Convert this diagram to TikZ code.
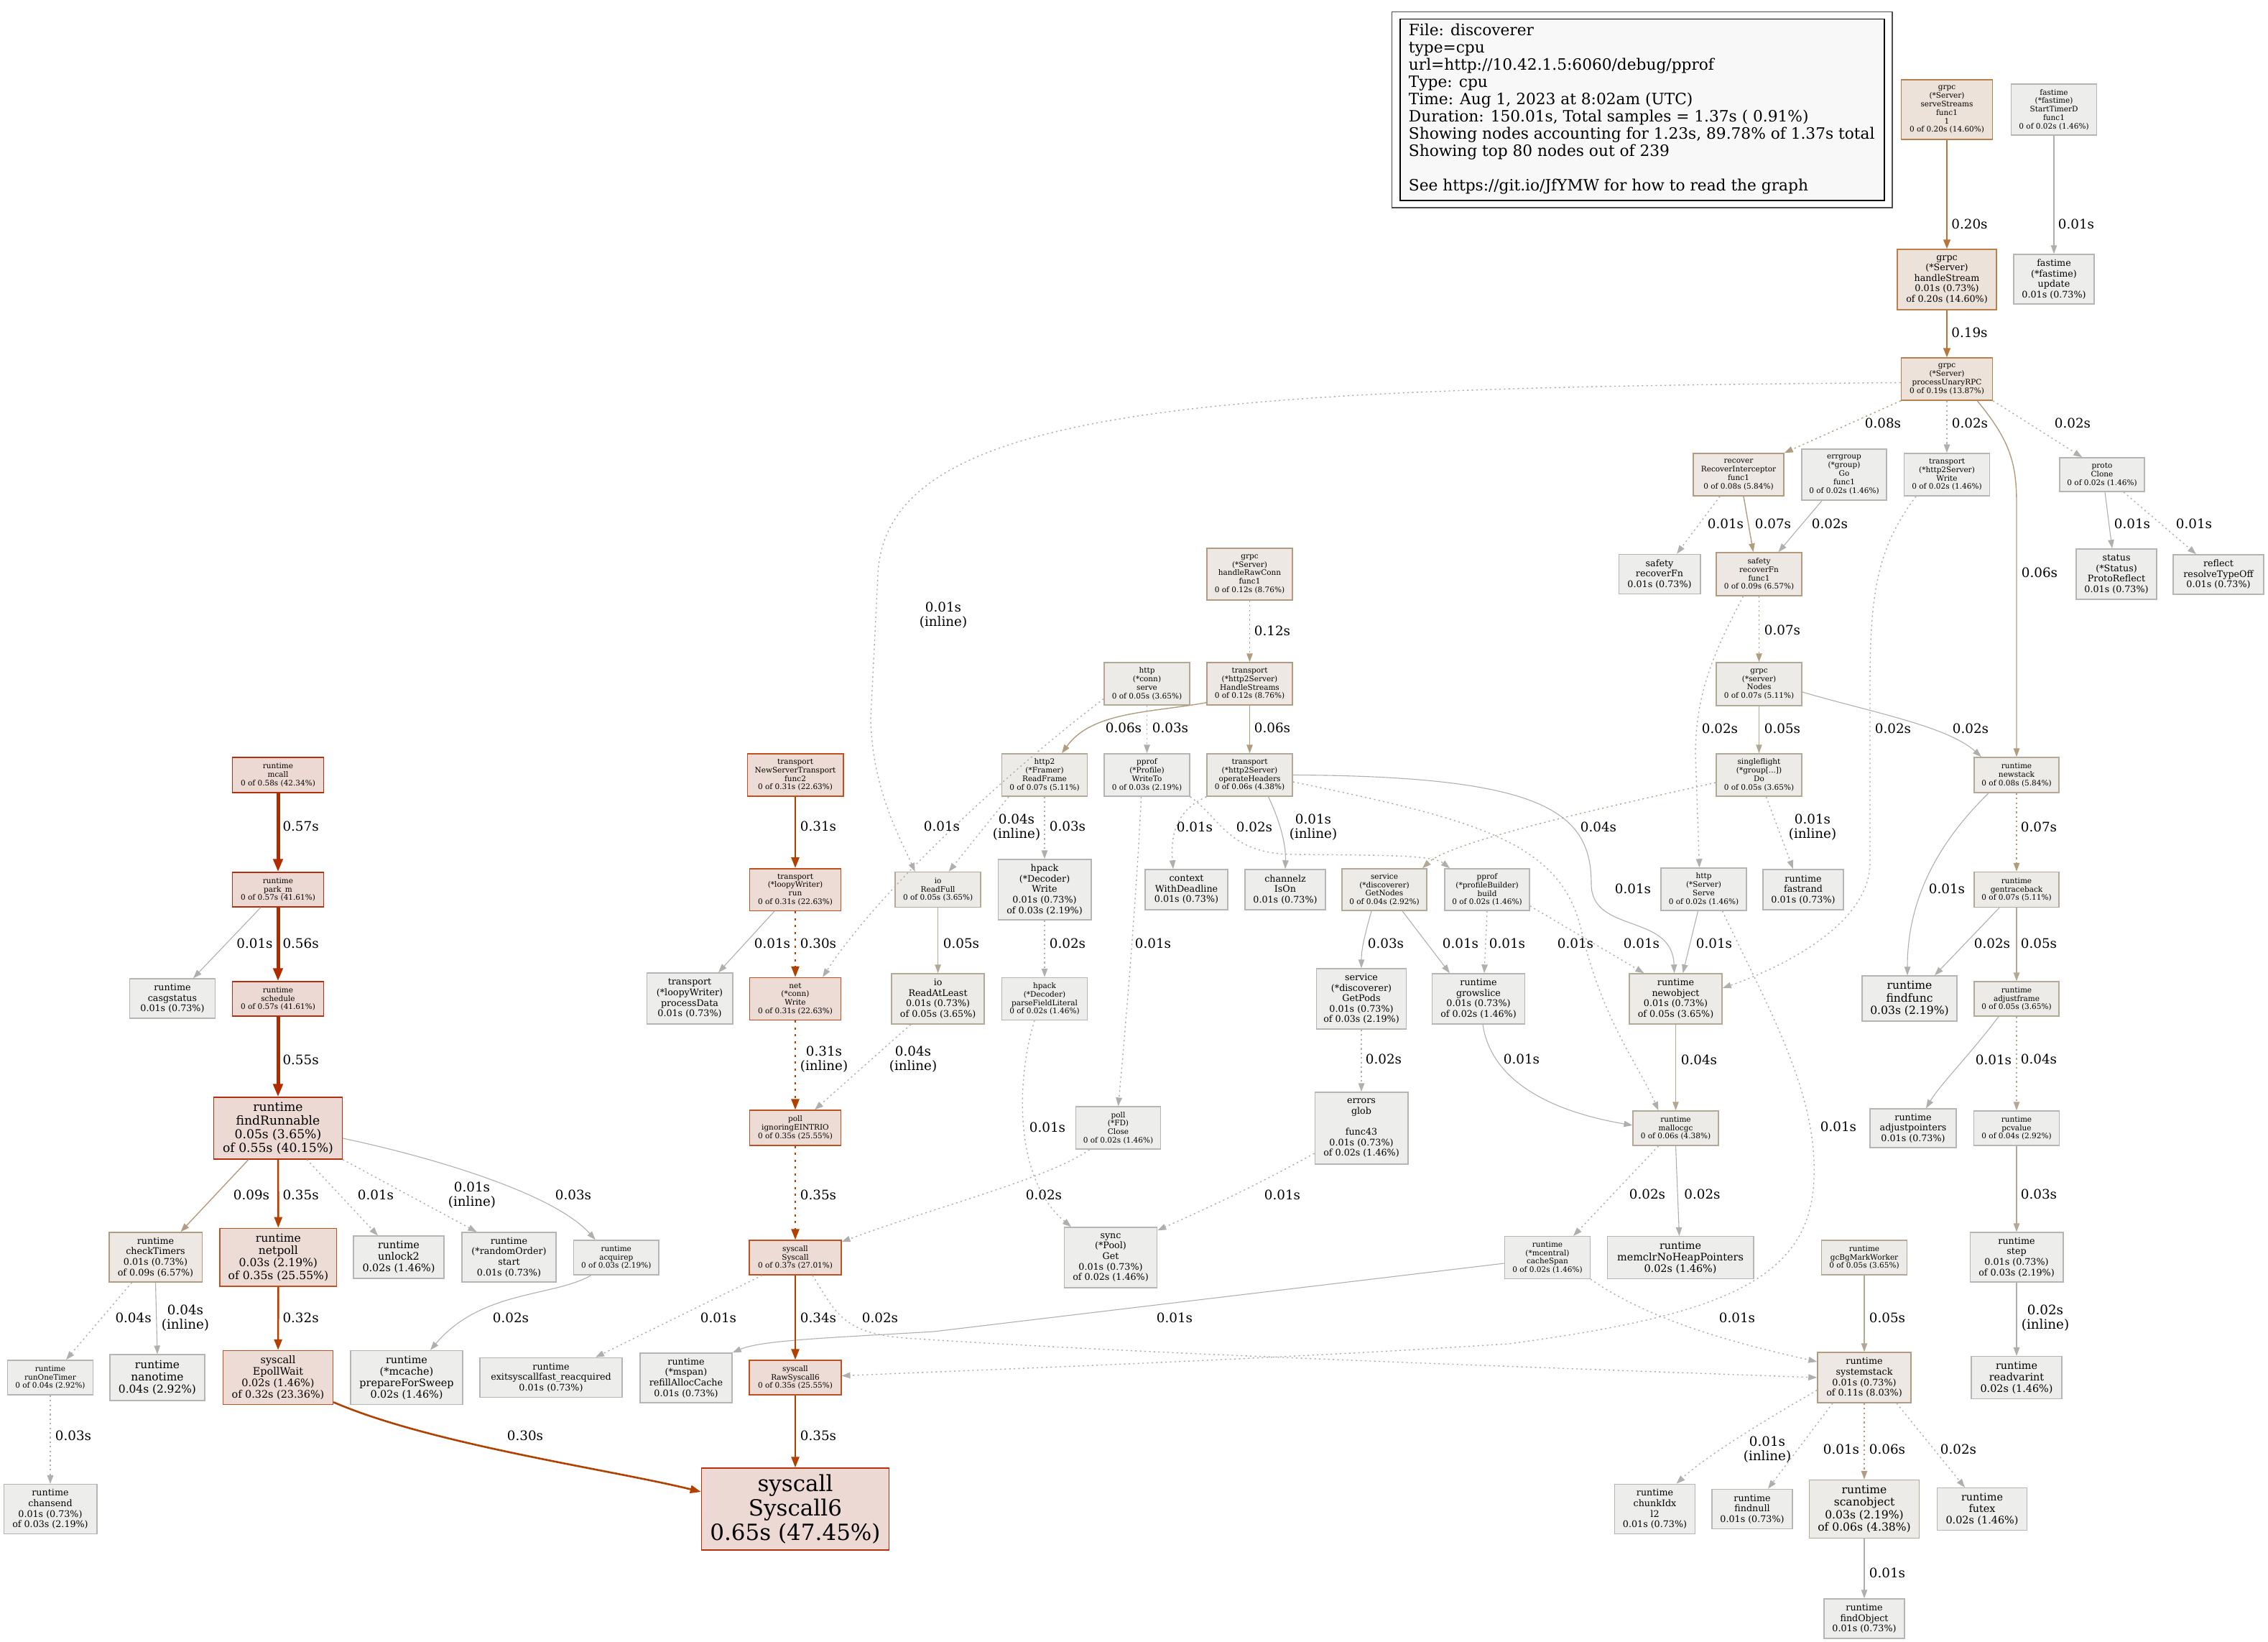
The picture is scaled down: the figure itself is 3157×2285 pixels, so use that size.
\documentclass[tikz,border=0pt]{standalone}
\usepackage{fontspec}
\setmainfont{DejaVu Serif}
\usetikzlibrary{arrows.meta}
\definecolor{g0f}{HTML}{EDEDEC}\definecolor{g0d}{HTML}{B5B5B3}
\definecolor{g1f}{HTML}{EDEBE8}\definecolor{g1d}{HTML}{B2A997}
\definecolor{g2f}{HTML}{EDE8E3}\definecolor{g2d}{HTML}{B29B7F}
\definecolor{g3f}{HTML}{EDE2D9}\definecolor{g3d}{HTML}{B8804C}
\definecolor{g4f}{HTML}{EDDCD5}\definecolor{g4d}{HTML}{BF5120}
\definecolor{g5f}{HTML}{EDD9D4}\definecolor{g5d}{HTML}{B2300E}
\definecolor{ehot}{HTML}{B22A00}
\definecolor{ered}{HTML}{B24100}
\definecolor{ewarm}{HTML}{B8763E}
\definecolor{etan}{HTML}{B29C80}
\definecolor{elt}{HTML}{B2A893}
\definecolor{egr}{HTML}{B0AFAC}
\definecolor{legf}{HTML}{F8F8F8}
\tikzset{
  pbox/.style={draw, rectangle, inner sep=0pt, align=center, line width=1.5pt, text=black},
  c0/.style={fill=g0f, draw=g0d},
  c1/.style={fill=g1f, draw=g1d},
  c2/.style={fill=g2f, draw=g2d},
  c3/.style={fill=g3f, draw=g3d},
  c4/.style={fill=g4f, draw=g4d},
  c5/.style={fill=g5f, draw=g5d},
  f0/.style={font=\fontsize{10.5}{11.8}\selectfont},
  f1/.style={font=\fontsize{12.7}{14.6}\selectfont},
  f2/.style={font=\fontsize{14.4}{16}\selectfont},
  f3/.style={font=\fontsize{15.6}{17.3}\selectfont},
  f4/.style={font=\fontsize{15.4}{17.4}\selectfont},
  f5/.style={font=\fontsize{17.2}{18.7}\selectfont},
  f6/.style={font=\fontsize{31}{33.8}\selectfont},
  lab/.style={font=\fontsize{18.3}{20}\selectfont, align=center, inner sep=0pt},
  arw/.style={-{Triangle[length=12pt,width=8.5pt]}},
  eg/.style={arw, draw=egr, line width=1.1pt},
  el/.style={arw, draw=elt, line width=1.2pt},
  et/.style={arw, draw=etan, line width=1.4pt},
  ew/.style={-{Triangle[length=13pt,width=10pt]}, draw=ewarm, line width=1.8pt},
  er/.style={-{Triangle[length=15pt,width=11pt]}, draw=ered, line width=2.6pt},
  eh/.style={-{Triangle[length=18pt,width=13pt]}, draw=ehot, line width=5pt},
  dt/.style={dash pattern=on 2.2pt off 4.2pt, line width=1.4pt},
  dtr/.style={dash pattern=on 3pt off 6.5pt},
}
\newcommand\mkbox[7]{\node[pbox,#2,minimum width=#5pt,minimum height=#6pt] (#1) at (#3,#4) {#7};}
\newcommand\mklab[4]{\node[lab] (#1) at (#2,#3) {#4};}
\begin{document}
\begin{tikzpicture}[x=1pt,y=-1pt]
\useasboundingbox (0,0) rectangle (3157,2285);
% legend
\node[draw=black!70, line width=1.5pt, fill=white, minimum width=696.7pt, minimum height=272.3pt, inner sep=0pt] (legout) at (2285.7,152.85) {};
\node[draw=black, line width=1.2pt, fill=legf, minimum width=674pt, minimum height=252.3pt, inner sep=0pt] (legin) at (2286,152.85) {};
\node[anchor=north west, inner sep=0pt, align=left, font=\fontsize{21.7}{24}\selectfont] (legtext) at (1960.7,32.8) {File: discoverer\\type=cpu\\url=http://10.42.1.5:6060/debug/pprof\\Type: cpu\\Time: Aug 1, 2023 at 8:02am (UTC)\\Duration: 150.01s, Total samples = 1.37s ( 0.91\%)\\Showing nodes accounting for 1.23s, 89.78\% of 1.37s total\\Showing top 80 nodes out of 239\\[24pt]See https://git.io/JfYMW for how to read the graph};
% nodes
\mkbox{serve}{c3,f0}{2710}{152.5}{127}{83}{grpc\\(*Server)\\serveStreams\\func1\\1\\0 of 0.20s (14.60\%)}
\mkbox{startt}{c0,f0}{2859}{152.5}{119}{71}{fastime\\(*fastime)\\StartTimerD\\func1\\0 of 0.02s (1.46\%)}
\mkbox{hstream}{c3,f1}{2710}{389}{138}{84}{grpc\\(*Server)\\handleStream\\0.01s (0.73\%)\\of 0.20s (14.60\%)}
\mkbox{fupd}{c0,f1}{2859}{388.5}{112}{69}{fastime\\(*fastime)\\update\\0.01s (0.73\%)}
\mkbox{punary}{c3,f0}{2710}{527.5}{127}{59}{grpc\\(*Server)\\processUnaryRPC\\0 of 0.19s (13.87\%)}
\mkbox{recint}{c2,f0}{2420}{660.5}{126}{59}{recover\\RecoverInterceptor\\func1\\0 of 0.08s (5.84\%)}
\mkbox{errg}{c0,f0}{2567}{660.5}{118}{71}{errgroup\\(*group)\\Go\\func1\\0 of 0.02s (1.46\%)}
\mkbox{twrite}{c0,f0}{2710}{660.5}{119}{59}{transport\\(*http2Server)\\Write\\0 of 0.02s (1.46\%)}
\mkbox{pclone}{c0,f0}{2926}{660.5}{118}{47}{proto\\Clone\\0 of 0.02s (1.46\%)}
\mkbox{srecfn}{c0,f1}{2310}{799}{113.5}{55}{safety\\recoverFn\\0.01s (0.73\%)}
\mkbox{sfunc1}{c2,f0}{2448.5}{799}{119}{60}{safety\\recoverFn\\func1\\0 of 0.09s (6.57\%)}
\mkbox{status}{c0,f1}{2946}{799}{112}{70}{status\\(*Status)\\ProtoReflect\\0.01s (0.73\%)}
\mkbox{reflect}{c0,f1}{3088}{799.5}{126}{55}{reflect\\resolveTypeOff\\0.01s (0.73\%)}
\mkbox{rawconn}{c2,f0}{1739.5}{799}{119}{72}{grpc\\(*Server)\\handleRawConn\\func1\\0 of 0.12s (8.76\%)}
\mkbox{connserve}{c1,f0}{1596.5}{951.5}{119}{59}{http\\(*conn)\\serve\\0 of 0.05s (3.65\%)}
\mkbox{hstreams}{c2,f0}{1739.5}{951.5}{119}{59}{transport\\(*http2Server)\\HandleStreams\\0 of 0.12s (8.76\%)}
\mkbox{gnodes}{c1,f0}{2448.5}{952}{119}{60}{grpc\\(*server)\\Nodes\\0 of 0.07s (5.11\%)}
\mkbox{nst}{c4,f0}{1107}{1078.5}{133.5}{59}{transport\\NewServerTransport\\func2\\0 of 0.31s (22.63\%)}
\mkbox{readframe}{c1,f0}{1454}{1078.5}{118.6}{59}{http2\\(*Framer)\\ReadFrame\\0 of 0.07s (5.11\%)}
\mkbox{writeto}{c0,f0}{1596.5}{1078.5}{119}{59}{pprof\\(*Profile)\\WriteTo\\0 of 0.03s (2.19\%)}
\mkbox{opheaders}{c1,f0}{1739.5}{1078.5}{119}{59}{transport\\(*http2Server)\\operateHeaders\\0 of 0.06s (4.38\%)}
\mkbox{sflight}{c1,f0}{2448.5}{1078.5}{119}{59}{singleflight\\(*group[...])\\Do\\0 of 0.05s (3.65\%)}
\mkbox{newstack}{c1,f0}{2807}{1078.5}{118}{49}{runtime\\newstack\\0 of 0.08s (5.84\%)}
\mkbox{mcall}{c5,f0}{387}{1078.5}{127}{49}{runtime\\mcall\\0 of 0.58s (42.34\%)}
\mkbox{parkm}{c5,f0}{387}{1238}{127}{48}{runtime\\park\_m\\0 of 0.57s (41.61\%)}
\mkbox{loopyrun}{c4,f0}{1107}{1238}{127}{58.5}{transport\\(*loopyWriter)\\run\\0 of 0.31s (22.63\%)}
\mkbox{readfull}{c1,f0}{1305.6}{1238}{119}{48.6}{io\\ReadFull\\0 of 0.05s (3.65\%)}
\mkbox{hwrite}{c0,f1}{1454}{1238}{129.5}{84}{hpack\\(*Decoder)\\Write\\0.01s (0.73\%)\\of 0.03s (2.19\%)}
\mkbox{ctx}{c0,f1}{1651.5}{1238}{115}{56}{context\\WithDeadline\\0.01s (0.73\%)}
\mkbox{chz}{c0,f1}{1789}{1238}{112}{56}{channelz\\IsOn\\0.01s (0.73\%)}
\mkbox{getnodes}{c1,f0}{1927}{1238}{118}{58}{service\\(*discoverer)\\GetNodes\\0 of 0.04s (2.92\%)}
\mkbox{pbuild}{c0,f0}{2070}{1238}{118}{58}{pprof\\(*profileBuilder)\\build\\0 of 0.02s (1.46\%)}
\mkbox{hserve}{c0,f0}{2371.5}{1237.5}{119}{59}{http\\(*Server)\\Serve\\0 of 0.02s (1.46\%)}
\mkbox{fastrand}{c0,f1}{2510}{1238}{112}{56}{runtime\\fastrand\\0.01s (0.73\%)}
\mkbox{gentb}{c1,f0}{2807}{1238}{118}{49}{runtime\\gentraceback\\0 of 0.07s (5.11\%)}
\mkbox{casg}{c0,f1}{240}{1389.5}{119}{55}{runtime\\casgstatus\\0.01s (0.73\%)}
\mkbox{sched}{c5,f0}{387}{1390}{127}{48}{runtime\\schedule\\0 of 0.57s (41.61\%)}
\mkbox{procdata}{c0,f1}{960}{1389.5}{119.5}{71}{transport\\(*loopyWriter)\\processData\\0.01s (0.73\%)}
\mkbox{netwrite}{c4,f0}{1107}{1390}{127}{59}{net\\(*conn)\\Write\\0 of 0.31s (22.63\%)}
\mkbox{readatl}{c1,f1}{1305.6}{1390}{129}{70}{io\\ReadAtLeast\\0.01s (0.73\%)\\of 0.05s (3.65\%)}
\mkbox{pfl}{c0,f0}{1454}{1390}{118.6}{59}{hpack\\(*Decoder)\\parseFieldLiteral\\0 of 0.02s (1.46\%)}
\mkbox{getpods}{c0,f1}{1895}{1390}{125}{84}{service\\(*discoverer)\\GetPods\\0.01s (0.73\%)\\of 0.03s (2.19\%)}
\mkbox{growslice}{c0,f1}{2058}{1390}{129}{70}{runtime\\growslice\\0.01s (0.73\%)\\of 0.02s (1.46\%)}
\mkbox{newobj}{c1,f1}{2332.5}{1390}{129}{70}{runtime\\newobject\\0.01s (0.73\%)\\of 0.05s (3.65\%)}
\mkbox{findfunc}{c0,f3}{2658}{1389.5}{132}{63}{runtime\\findfunc\\0.03s (2.19\%)}
\mkbox{adjframe}{c1,f0}{2807}{1390}{118}{48}{runtime\\adjustframe\\0 of 0.05s (3.65\%)}
\mkbox{findrun}{c5,f5}{387}{1570}{178.6}{85.6}{runtime\\findRunnable\\0.05s (3.65\%)\\of 0.55s (40.15\%)}
\mkbox{eintr}{c4,f0}{1107}{1569.6}{127}{49}{poll\\ignoringEINTRIO\\0 of 0.35s (25.55\%)}
\mkbox{fdclose}{c0,f0}{1556.5}{1569.6}{118}{59}{poll\\(*FD)\\Close\\0 of 0.02s (1.46\%)}
\mkbox{eglob}{c0,f1}{1895}{1570}{129.5}{100}{errors\\glob\\\mbox{}\\func43\\0.01s (0.73\%)\\of 0.02s (1.46\%)}
\mkbox{mallocgc}{c1,f0}{2332.5}{1570}{118.6}{48}{runtime\\mallocgc\\0 of 0.06s (4.38\%)}
\mkbox{adjptr}{c0,f1}{2663}{1570}{120}{54}{runtime\\adjustpointers\\0.01s (0.73\%)}
\mkbox{pcvalue}{c0,f0}{2807}{1570}{118.6}{48}{runtime\\pcvalue\\0 of 0.04s (2.92\%)}
\mkbox{checkt}{c2,f1}{216.5}{1749.5}{129.5}{69}{runtime\\checkTimers\\0.01s (0.73\%)\\of 0.09s (6.57\%)}
\mkbox{netpoll}{c4,f3}{387.4}{1749.6}{162.6}{80.6}{runtime\\netpoll\\0.03s (2.19\%)\\of 0.35s (25.55\%)}
\mkbox{unlock2}{c0,f2}{555}{1749.5}{125.6}{58.6}{runtime\\unlock2\\0.02s (1.46\%)}
\mkbox{rorder}{c0,f1}{708.5}{1749.5}{131.4}{69}{runtime\\(*randomOrder)\\start\\0.01s (0.73\%)}
\mkbox{acqp}{c0,f0}{857.8}{1750}{118.6}{48}{runtime\\acquirep\\0 of 0.03s (2.19\%)}
\mkbox{syscall}{c4,f0}{1107}{1750}{127.6}{48}{syscall\\Syscall\\0 of 0.37s (27.01\%)}
\mkbox{poolget}{c0,f1}{1546}{1750}{129}{84}{sync\\(*Pool)\\Get\\0.01s (0.73\%)\\of 0.02s (1.46\%)}
\mkbox{cspan}{c0,f0}{2154}{1750}{118.6}{58.6}{runtime\\(*mcentral)\\cacheSpan\\0 of 0.02s (1.46\%)}
\mkbox{memclr}{c0,f2}{2339}{1750}{203.5}{58.6}{runtime\\memclrNoHeapPointers\\0.02s (1.46\%)}
\mkbox{gcbg}{c1,f0}{2595}{1750}{118.6}{48}{runtime\\gcBgMarkWorker\\0 of 0.05s (3.65\%)}
\mkbox{step}{c0,f1}{2807}{1749.5}{129.5}{69}{runtime\\step\\0.01s (0.73\%)\\of 0.03s (2.19\%)}
\mkbox{rot}{c0,f0}{70}{1917}{118.6}{48}{runtime\\runOneTimer\\0 of 0.04s (2.92\%)}
\mkbox{nanot}{c0,f4}{219}{1917}{132}{63.6}{runtime\\nanotime\\0.04s (2.92\%)}
\mkbox{epoll}{c4,f2}{387}{1917}{153}{75}{syscall\\EpollWait\\0.02s (1.46\%)\\of 0.32s (23.36\%)}
\mkbox{pfs}{c0,f2}{566}{1917}{156}{75}{runtime\\(*mcache)\\prepareForSweep\\0.02s (1.46\%)}
\mkbox{exitsc}{c0,f1}{767}{1917}{198.3}{55}{runtime\\exitsyscallfast\_reacquired\\0.01s (0.73\%)}
\mkbox{refill}{c0,f1}{955}{1917.5}{128}{69}{runtime\\(*mspan)\\refillAllocCache\\0.01s (0.73\%)}
\mkbox{rawsc}{c4,f0}{1107}{1917}{127.6}{48}{syscall\\RawSyscall6\\0 of 0.35s (25.55\%)}
\mkbox{sstack}{c2,f1}{2595}{1917}{130}{70}{runtime\\systemstack\\0.01s (0.73\%)\\of 0.11s (8.03\%)}
\mkbox{readv}{c0,f2}{2807}{1917}{125.6}{58.6}{runtime\\readvarint\\0.02s (1.46\%)}
\mkbox{chans}{c0,f1}{70}{2100}{129.5}{68.6}{runtime\\chansend\\0.01s (0.73\%)\\of 0.03s (2.19\%)}
\mkbox{sys6}{c5,f6}{1107}{2100}{261}{114}{syscall\\Syscall6\\0.65s (47.45\%)}
\mkbox{chunk}{c0,f1}{2303.5}{2100}{111.6}{69}{runtime\\chunkIdx\\l2\\0.01s (0.73\%)}
\mkbox{findnull}{c0,f1}{2439}{2100}{111.6}{55}{runtime\\findnull\\0.01s (0.73\%)}
\mkbox{scanobj}{c1,f3}{2595}{2100}{153}{81}{runtime\\scanobject\\0.03s (2.19\%)\\of 0.06s (4.38\%)}
\mkbox{futex}{c0,f2}{2759}{2100}{125}{58.6}{runtime\\futex\\0.02s (1.46\%)}
\mkbox{findobj}{c0,f1}{2595}{2252.5}{112}{55}{runtime\\findObject\\0.01s (0.73\%)}
% edges
\draw[ew] (serve) -- (hstream);
\draw[eg] (startt) -- (fupd);
\draw[ew] (hstream) -- (punary);
\draw[et,dt] (punary.south west) -- (recint.north east);
\draw[eg,dt] (punary) -- (twrite);
\draw[eg,dt] (punary.south east) -- ([xshift=32pt]pclone.north west);
\draw[et] ([xshift=-22pt]punary.south east) .. controls (2795,610) and (2807,640) .. (2807,700) -- (newstack);
\draw[eg,dt] ([yshift=-5pt]punary.west) .. controls (1700,540) and (1232,560) .. (1222,800) -- (1212,1000) .. controls (1214,1100) and (1255,1170) .. ([xshift=-32pt]readfull.north);
\draw[eg,dt] ([xshift=-26pt]recint.south) -- ([xshift=24pt]srecfn.north);
\draw[et] ([xshift=7pt]recint.south) -- ([xshift=-8pt]sfunc1.north);
\draw[eg] ([xshift=-31pt]errg.south) -- ([xshift=27pt]sfunc1.north);
\draw[eg,dt] ([xshift=-43pt]twrite.south) .. controls (2615,760) and (2603,820) .. (2603,950) -- (2603,1200) .. controls (2603,1290) and (2470,1350) .. ([yshift=15pt]newobj.east);
\draw[et,dt] (sfunc1) -- (gnodes);
\draw[eg,dt] ([xshift=-22pt]sfunc1.south) .. controls (2390,900) and (2360,960) .. (2360,1050) -- ([xshift=-6pt]hserve.north);
\draw[eg] ([xshift=4pt]pclone.south) -- ([xshift=-6pt]status.north);
\draw[eg,dt] ([xshift=30pt]pclone.south) -- ([xshift=-31pt]reflect.north);
\draw[et,dt] (rawconn) -- (hstreams);
\draw[et] ([yshift=4pt]hstreams.south west) .. controls (1600,992) and (1520,990) .. ([xshift=24pt]readframe.north);
\draw[et] (hstreams) -- (opheaders);
\draw[eg,dt] (connserve) -- (writeto);
\draw[eg,dt] ([yshift=-21pt]connserve.west) .. controls (1420,1060) and (1230,1230) .. ([xshift=38pt]netwrite.north);
\draw[eg,dt] ([xshift=-50pt]readframe.south) -- ([xshift=15pt]readfull.north);
\draw[eg,dt] (readframe) -- (hwrite);
\draw[eg,dt] (opheaders.south west) .. controls (1632,1130) and (1630,1170) .. ([xshift=-18.5pt]ctx.north);
\draw[eg,dt] (writeto.south east) .. controls (1700,1140) and (1710,1188) .. (1800,1189) .. controls (1930,1190) and (1995,1190) .. ([xshift=-52pt]pbuild.north);
\draw[eg] ([xshift=26pt]opheaders.south) .. controls (1785,1150) and (1790,1180) .. (chz.north);
\draw[eg] (opheaders.east) .. controls (2150,1080) and (2215,1130) .. (2215,1230) .. controls (2215,1300) and (2328,1270) .. ([xshift=-2pt]newobj.north);
\draw[eg,dt] ([yshift=-9.5pt]opheaders.east) .. controls (2050,1140) and (2170,1170) .. (2200,1290) .. controls (2230,1420) and (2280,1480) .. ([xshift=-24pt]mallocgc.north);
\draw[eg] ([xshift=-18pt]getnodes.south) .. controls (1900,1300) and (1895,1320) .. (getpods.north);
\draw[eg] ([xshift=25pt]getnodes.south) -- ([xshift=-40pt]growslice.north);
\draw[eg,dt] (pbuild.south) -- ([xshift=8pt]growslice.north);
\draw[eg,dt] ([yshift=7pt]pbuild.south east) -- ([xshift=-44pt]newobj.north);
\draw[el,dt] ([yshift=-10.5pt]sflight.west) .. controls (2250,1120) and (2020,1170) .. ([xshift=53pt]getnodes.north);
\draw[eg,dt] ([xshift=10pt]sflight.south) -- ([xshift=-14pt]fastrand.north);
\draw[el] (gnodes) -- (sflight);
\draw[eg] ([yshift=-11pt]gnodes.east) .. controls (2600,990) and (2710,1010) .. ([xshift=-49pt]newstack.north);
\draw[eg] ([xshift=-8pt]hserve.south) -- ([xshift=10pt]newobj.north);
\draw[eg,dt] ([xshift=26pt]hserve.south) .. controls (2460,1400) and (2530,1520) .. (2525,1640) .. controls (2520,1780) and (2400,1830) .. (2100,1870) .. controls (1800,1890) and (1400,1905) .. ([yshift=2.5pt]rawsc.east);
\draw[eg] ([xshift=-39pt]newstack.south) .. controls (2690,1180) and (2655,1260) .. ([xshift=-3pt]findfunc.north);
\draw[et,dt] (newstack) -- (gentb);
\draw[eg] ([xshift=-24pt]gentb.south) -- ([xshift=35pt]findfunc.north);
\draw[el] (gentb) -- (adjframe);
\draw[eg] ([xshift=-25pt]adjframe.south) .. controls (2740,1470) and (2700,1510) .. ([xshift=18pt]adjptr.north);
\draw[el,dt] (adjframe) -- (pcvalue);
\draw[el] (pcvalue) -- (step);
\draw[eg] (step) -- (readv);
\draw[el] (newobj) -- (mallocgc);
\draw[eg] ([xshift=6pt]growslice.south) .. controls (2075,1500) and (2150,1545) .. ([yshift=4pt]mallocgc.west);
\draw[eg,dt] (getpods) -- (eglob);
\draw[eg,dt] ([yshift=-35pt]eglob.west) .. controls (1730,1660) and (1660,1690) .. ([yshift=-5pt]poolget.north east);
\draw[eg,dt] ([xshift=-14pt]pfl.south) .. controls (1415,1500) and (1410,1640) .. ([xshift=-55pt]poolget.north);
\draw[eg,dt] ([xshift=-40pt]fdclose.south) .. controls (1460,1640) and (1300,1680) .. ([yshift=-3pt]syscall.north east);
\draw[eg,dt] ([xshift=-8pt]writeto.south) .. controls (1582,1250) and (1565,1450) .. (fdclose.north);
\draw[eg,dt] ([xshift=-24pt]mallocgc.south) -- ([xshift=36pt]cspan.north);
\draw[eg] (mallocgc.south) -- ([xshift=-1.5pt]memclr.north);
\draw[eg] ([yshift=-8pt]cspan.west) -- (1300,1853) .. controls (1150,1862) and (1060,1865) .. (refill.north east);
\draw[eg,dt] (cspan.south east) .. controls (2300,1840) and (2420,1870) .. ([yshift=22pt]sstack.west);
\draw[eg,dt] ([xshift=24pt]syscall.south) .. controls (1165,1830) and (1175,1855) .. (1260,1862) .. controls (1600,1885) and (2200,1905) .. (sstack.west);
\draw[eg,dt] ([xshift=-46pt]syscall.south) -- ([xshift=62pt]exitsc.north);
\draw[er] (syscall) -- (rawsc);
\draw[er] (rawsc) -- (sys6);
\draw[er,dtr] (eintr) -- (syscall);
\draw[er,dtr] (netwrite) -- (eintr);
\draw[eg,dt] ([xshift=-38pt]readatl.south) -- ([xshift=27pt]eintr.north);
\draw[er,dtr] (loopyrun) -- (netwrite);
\draw[eg] ([xshift=-29pt]loopyrun.south) -- ([xshift=40pt]procdata.north);
\draw[er] (nst) -- (loopyrun);
\draw[el] (readfull) -- (readatl);
\draw[eg,dt] (hwrite) -- (pfl);
\draw[eh] (mcall) -- (parkm);
\draw[eg] ([xshift=-24pt]parkm.south) -- ([xshift=29pt]casg.north);
\draw[eh] (parkm) -- (sched);
\draw[eh] (sched) -- (findrun);
\draw[et] ([xshift=-41pt]findrun.south) -- ([xshift=35pt]checkt.north);
\draw[er] (findrun) -- (netpoll);
\draw[eg,dt] ([xshift=40pt]findrun.south) -- ([xshift=-29pt]unlock2.north);
\draw[eg,dt] (findrun.south east) -- ([xshift=-45pt]rorder.north);
\draw[eg] ([yshift=-14pt]findrun.east) .. controls (600,1610) and (770,1660) .. ([xshift=-29pt]acqp.north);
\draw[eg,dt] ([xshift=-33pt]checkt.south) -- ([xshift=22pt]rot.north);
\draw[eg] (checkt.south) -- (nanot.north);
\draw[er] (netpoll) -- (epoll);
\draw[eg] ([xshift=-35pt]acqp.south) .. controls (770,1805) and (670,1795) .. ([xshift=33pt]pfs.north);
\draw[eg,dt] (rot) -- (chans);
\draw[er] ([yshift=4pt]epoll.south east) .. controls (600,2010) and (850,2045) .. ([yshift=24pt]sys6.west);
\draw[eg,dt] ([yshift=-17.6pt]sstack.west) .. controls (2450,1980) and (2370,2030) .. ([xshift=30pt]chunk.north);
\draw[eg,dt] ([xshift=-44pt]sstack.south) -- ([xshift=22pt]findnull.north);
\draw[et,dt] (sstack) -- (scanobj);
\draw[eg,dt] ([xshift=45pt]sstack.south) -- ([xshift=-24pt]futex.north);
\draw[eg] (scanobj) -- (findobj);
\draw[el] (gcbg) -- (sstack);
% labels
\mklab{L1}{2741.5}{312}{0.20s}
\mklab{L2}{2890}{312}{0.01s}
\mklab{L3}{2741.5}{463}{0.19s}
\mklab{L4}{2621}{589}{0.08s}
\mklab{L5}{2742}{589}{0.02s}
\mklab{L6}{2885}{589}{0.02s}
\mklab{L7}{2839}{797}{0.06s}
\mklab{L8}{1313}{856}{0.01s\\(inline)}
\mklab{L9}{2402}{729}{0.01s}
\mklab{L10}{2468}{729}{0.07s}
\mklab{L11}{2547}{729}{0.02s}
\mklab{L12}{2968}{729}{0.01s}
\mklab{L13}{3054}{729}{0.01s}
\mklab{L14}{2481}{877}{0.07s}
\mklab{L15}{1771}{878}{0.12s}
\mklab{L16}{1564}{1013}{0.06s}
\mklab{L17}{1629}{1013}{0.03s}
\mklab{L18}{1771}{1013}{0.06s}
\mklab{L19}{2394}{1014}{0.02s}
\mklab{L20}{2481}{1014}{0.05s}
\mklab{L21}{2635}{1014}{0.02s}
\mklab{L22}{2743}{1014}{0.02s}
\mklab{L23}{418.6}{1150}{0.57s}
\mklab{L24}{1139}{1150}{0.31s}
\mklab{L25}{1311}{1150}{0.01s}
\mklab{L26}{1415}{1151}{0.04s\\(inline)}
\mklab{L27}{1486}{1150}{0.03s}
\mklab{L28}{1663}{1151}{0.01s}
\mklab{L29}{1746}{1151}{0.02s}
\mklab{L30}{1828}{1151}{0.01s\\(inline)}
\mklab{L31}{2225}{1151}{0.04s}
\mklab{L32}{2523}{1151}{0.01s\\(inline)}
\mklab{L33}{2838}{1151}{0.07s}
\mklab{L34}{2273}{1237}{0.01s}
\mklab{L35}{2710}{1237}{0.01s}
\mklab{L36}{354.5}{1313}{0.01s}
\mklab{L37}{418.6}{1313}{0.56s}
\mklab{L38}{1075}{1313}{0.01s}
\mklab{L39}{1139}{1313}{0.30s}
\mklab{L40}{1338}{1313}{0.05s}
\mklab{L41}{1486}{1313}{0.02s}
\mklab{L42}{1605}{1313}{0.01s}
\mklab{L43}{1929}{1313}{0.03s}
\mklab{L44}{2033}{1313}{0.01s}
\mklab{L45}{2098}{1313}{0.01s}
\mklab{L46}{2193}{1313}{0.01s}
\mklab{L47}{2285}{1313}{0.01s}
\mklab{L48}{2386}{1313}{0.01s}
\mklab{L49}{2773}{1313}{0.02s}
\mklab{L50}{2838}{1313}{0.05s}
\mklab{L51}{418.6}{1475}{0.55s}
\mklab{L52}{1147}{1474}{0.31s\\(inline)}
\mklab{L53}{1271}{1474}{0.04s\\(inline)}
\mklab{L54}{1926}{1474}{0.02s}
\mklab{L55}{2118}{1474}{0.01s}
\mklab{L56}{2365}{1475}{0.04s}
\mklab{L57}{2775}{1475}{0.01s}
\mklab{L58}{2838}{1474}{0.04s}
\mklab{L59}{1458}{1569}{0.01s}
\mklab{L60}{2559}{1568}{0.01s}
\mklab{L61}{350}{1663}{0.09s}
\mklab{L62}{418.6}{1663}{0.35s}
\mklab{L63}{523}{1663}{0.01s}
\mklab{L64}{657}{1663}{0.01s\\(inline)}
\mklab{L65}{798}{1663}{0.03s}
\mklab{L66}{1139}{1663}{0.35s}
\mklab{L67}{1453}{1663}{0.02s}
\mklab{L68}{1785}{1663}{0.01s}
\mklab{L69}{2293}{1662}{0.02s}
\mklab{L70}{2369.5}{1662}{0.02s}
\mklab{L71}{2838}{1662}{0.03s}
\mklab{L72}{185.6}{1834}{0.04s}
\mklab{L73}{258}{1834}{0.04s\\(inline)}
\mklab{L74}{418.6}{1834}{0.32s}
\mklab{L75}{711}{1834}{0.02s}
\mklab{L76}{1000}{1834}{0.01s}
\mklab{L77}{1139}{1834}{0.34s}
\mklab{L78}{1225}{1834}{0.02s}
\mklab{L79}{1635}{1834}{0.01s}
\mklab{L80}{2418}{1834}{0.01s}
\mklab{L81}{2627}{1834}{0.05s}
\mklab{L82}{2847}{1834}{0.02s\\(inline)}
\mklab{L83}{102}{1998}{0.03s}
\mklab{L84}{731}{1998}{0.30s}
\mklab{L85}{1139}{1998}{0.35s}
\mklab{L86}{2460}{2017}{0.01s\\(inline)}
\mklab{L87}{2563}{2017}{0.01s}
\mklab{L88}{2627}{2017}{0.06s}
\mklab{L89}{2726}{2017}{0.02s}
\mklab{L90}{2627}{2189}{0.01s}
\end{tikzpicture}
\end{document}
